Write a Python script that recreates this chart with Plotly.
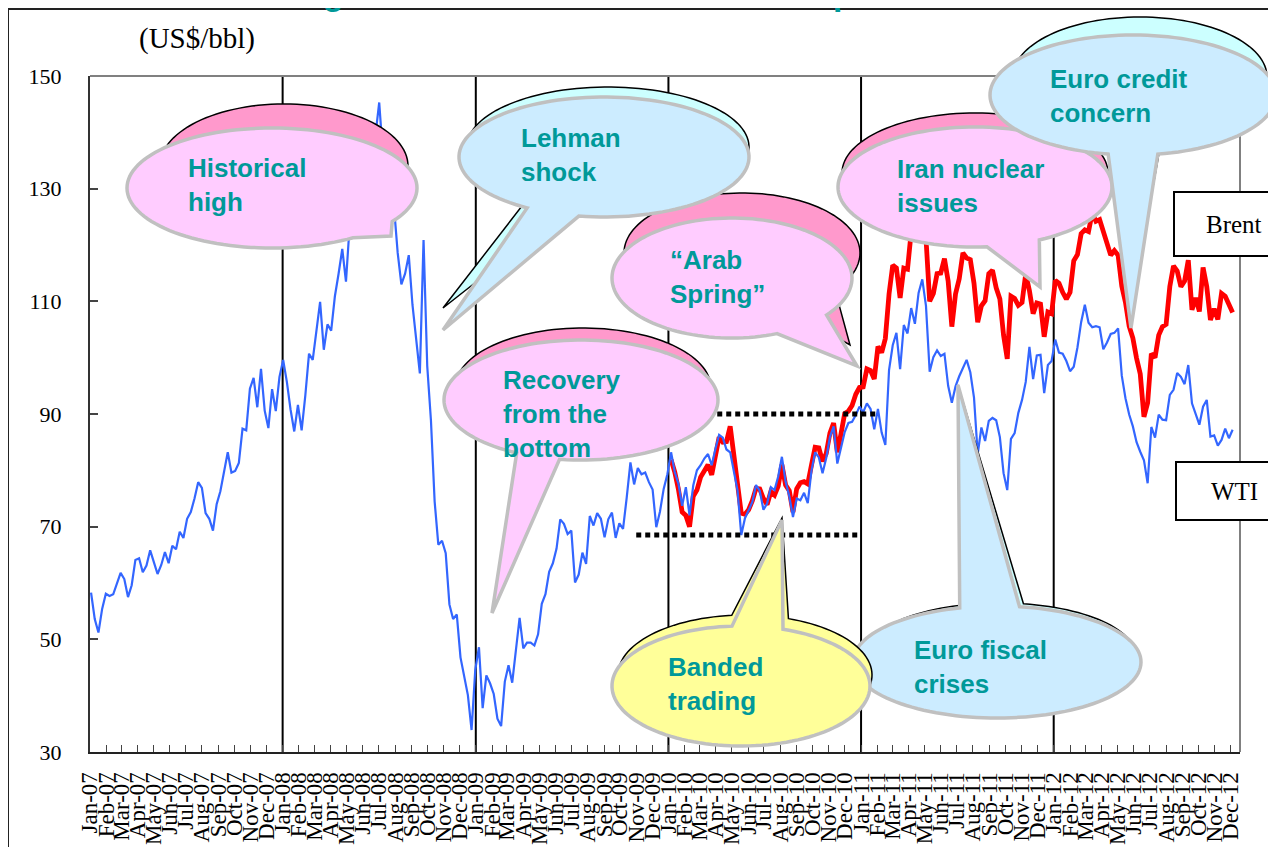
import math
import pandas as pd
import plotly.graph_objects as go

# ---------------- data (weekly readings, US$/bbl) ----------------
wti_2007 = [58.3, 53.6, 51.2, 55.4, 58.1,
            57.7, 58.0, 60.1, 61.8,
            60.7, 57.5, 59.6, 64.1,
            64.4, 61.9, 63.1, 65.8,
            63.7, 61.6, 63.2, 65.5, 63.5,
            66.6, 66.0, 69.1, 68.0,
            71.4, 72.6, 75.0, 77.9,
            76.9, 72.4, 71.4, 69.3, 74.0,
            76.3, 79.9, 83.2, 79.6,
            79.9, 81.3, 87.4, 87.1, 94.5,
            96.4, 91.2, 98.0, 90.6,
            87.5, 94.4, 90.5, 96.6]
wti_2008 = [99.6, 95.7, 90.8, 86.9, 91.6,
            87.1, 93.3, 100.7, 99.6,
            104.5, 109.9, 101.4, 105.9,
            104.8, 110.9, 114.9, 119.3, 113.5,
            123.5, 124.1, 133.2, 130.0,
            122.3, 136.4, 136.7, 139.6,
            145.3, 136.0, 134.6, 124.4, 126.8,
            118.6, 113.0, 114.9, 118.2,
            109.4, 102.6, 97.2, 120.9,
            98.5, 88.9, 74.5, 66.8, 67.5,
            65.3, 56.2, 53.6, 54.4,
            46.8, 43.5, 40.1, 33.9, 44.6]
wti_2009 = [48.6, 37.8, 43.6, 42.2,
            40.3, 35.9, 34.6, 42.5,
            45.4, 42.3, 48.1, 53.8,
            48.4, 49.4, 49.4, 48.9, 50.9,
            56.3, 58.0, 62.0, 63.5,
            66.1, 71.3, 70.5, 68.7,
            69.3, 60.1, 61.5, 65.4, 63.4,
            71.9, 70.2, 72.4, 71.4,
            68.1, 71.3, 72.5, 68.0, 70.6,
            69.6, 75.2, 81.4, 77.5,
            80.4, 79.3, 79.6, 77.9,
            76.6, 69.9, 72.7, 76.7, 79.3]
wti_2010 = [83.2, 79.7, 77.6, 73.7,
            77.0, 72.0, 77.3, 80.0,
            80.9, 82.1, 82.9, 80.9, 83.8,
            86.3, 85.8, 83.7, 83.2,
            79.9, 76.4, 68.5, 71.5,
            72.9, 74.4, 77.4, 76.4, 73.0,
            74.1, 77.0, 76.5, 78.9,
            82.4, 78.0, 75.4, 71.7,
            75.0, 74.7, 76.0, 74.2, 79.9,
            83.2, 82.3, 79.5, 82.2,
            85.9, 87.8, 81.2, 83.9,
            86.8, 88.4, 88.6, 89.8, 91.3]
wti_2011 = [90.3, 91.9, 90.9, 87.3,
            90.9, 86.7, 84.5, 97.8,
            102.2, 104.4, 97.98, 105.8, 104.3,
            108.8, 106.0, 111.5, 113.9,
            109.2, 97.5, 100.1, 101.3,
            100.3, 100.7, 95.0, 92.0, 94.9,
            96.7, 98.1, 99.6, 97.4,
            92.9, 82.9, 87.6, 85.2, 88.8,
            89.3, 88.9, 85.9, 79.5,
            76.5, 85.6, 86.6, 90.2,
            92.5, 95.7, 101.9, 96.2, 100.4,
            100.5, 93.7, 98.7, 99.4]
wti_2012 = [103.2, 100.9, 100.7, 99.4,
            97.6, 98.4, 101.8, 106.3, 109.4,
            106.2, 105.4, 105.6, 105.4,
            101.5, 102.7, 104.2, 104.4,
            105.2, 96.8, 92.8, 89.9, 87.8,
            85.0, 83.3, 81.8, 77.7,
            87.7, 85.8, 89.9, 89.0,
            88.9, 93.4, 94.3, 97.3, 96.6,
            95.3, 98.7, 91.9, 90.0,
            88.1, 91.3, 92.5, 86.0, 86.2,
            84.4, 85.4, 87.4, 85.7,
            87.2]
brent_2010 = [81.9, 79.7, 76.6, 72.6,
              72.0, 70.0, 75.4, 76.5,
              78.8, 80.0, 81.0, 79.2, 82.7,
              85.9, 85.0, 85.1, 87.8,
              82.6, 78.6, 72.4, 72.2,
              73.0, 74.6, 76.8, 76.7, 75.0,
              73.9, 76.2, 75.6, 77.2,
              81.0, 77.4, 76.4, 72.6,
              76.7, 77.8, 78.0, 77.6, 80.9,
              84.1, 84.0, 81.6, 83.0,
              86.6, 88.4, 83.2, 86.5,
              90.1, 90.5, 91.5, 93.5, 94.7]
brent_2011 = [94.8, 98.0, 97.7, 96.2,
              102.0, 100.9, 103.4, 111.3,
              116.4, 115.9, 110.6, 115.9, 115.7,
              122.3, 120.9, 124.0, 125.1,
              121.2, 110.0, 111.4, 114.9,
              115.0, 117.6, 113.6, 105.5, 111.3,
              114.0, 118.6, 117.7, 117.4,
              113.2, 106.3, 109.2, 110.1, 114.9,
              115.5, 112.4, 110.4, 104.0,
              99.8, 110.9, 110.5, 109.3,
              109.8, 114.9, 111.9, 107.8, 109.7,
              109.5, 103.7, 108.1, 107.8]
brent_2012 = [113.7, 113.2, 111.6, 110.4,
              111.6, 117.2, 118.3, 122.0, 122.7,
              122.4, 125.7, 124.2, 124.5,
              122.3, 119.9, 118.2, 119.0,
              118.2, 112.7, 109.8, 105.6, 103.5,
              99.9, 97.1, 89.5, 92.0,
              100.7, 100.0, 104.0, 105.5,
              105.9, 112.6, 116.3, 115.4, 112.6,
              113.6, 117.3, 108.5, 110.6,
              108.2, 116.0, 112.6, 106.7, 108.7,
              106.8, 111.4, 110.9, 109.5,
              108.0]

wti_years = [2007, 2008, 2009, 2010, 2011, 2012]
wti_values = [wti_2007, wti_2008, wti_2009, wti_2010, wti_2011, wti_2012]
brent_years = [2010, 2011, 2012]
brent_values = [brent_2010, brent_2011, brent_2012]

month_names = ["Jan", "Feb", "Mar", "Apr", "May", "Jun",
               "Jul", "Aug", "Sep", "Oct", "Nov", "Dec"]
year_suffixes = ["07", "08", "09", "10", "11", "12"]
tick_labels = [f"{m}-{y}" for y in year_suffixes for m in month_names]
year_lines = ["2008-01-01", "2009-01-01", "2010-01-01", "2011-01-01", "2012-01-01"]
y_ticks = [30, 50, 70, 90, 110, 130, 150]

band_high = 90.0
band_low = 68.5
band_high_span = ["2009-11-01", "2011-01-28"]
band_low_span = ["2009-11-01", "2011-01-02"]


def weekly_dates(years, values):
    xs, ys = [], []
    for yr, vals in zip(years, values):
        d = pd.date_range(f"{yr}-01-01", periods=len(vals), freq="W-WED")
        xs.extend(list(d))
        ys.extend(vals)
    return xs, ys


wti_x, wti_y = weekly_dates(wti_years, wti_values)
brent_x, brent_y = weekly_dates(brent_years, brent_values)
tick_dates = pd.date_range("2007-01-01", periods=len(tick_labels), freq="MS")

# ---------------- figure ----------------
# The page places the figure 8px in from the top-left corner, so the
# figure is sized/placed in page pixels minus that offset.
OFF = 8
W, H = 1276 - OFF, 847 - OFF
# plot area in page pixels
PL, PR, PT, PB = 90, 1240, 76, 752
L, R, T, B = PL - OFF, PR - OFF, PT - OFF, PB - OFF


def px(x):
    return (x - PL) / (PR - PL)


def py(y):
    return (PB - y) / (PB - PT)


fig = go.Figure()
fig.add_trace(go.Scatter(x=brent_x, y=brent_y, mode="lines",
                         line=dict(color="#FF0000", width=4.8), name="Brent"))
fig.add_trace(go.Scatter(x=wti_x, y=wti_y, mode="lines",
                         line=dict(color="#3366FF", width=2.2), name="WTI"))
fig.add_trace(go.Scatter(x=band_high_span, y=[band_high, band_high], mode="lines",
                         line=dict(color="black", width=5, dash="5px,4px")))
fig.add_trace(go.Scatter(x=band_low_span, y=[band_low, band_low], mode="lines",
                         line=dict(color="black", width=5, dash="5px,4px")))

shapes = []
for d in year_lines:
    shapes.append(dict(type="line", xref="x", yref="paper", x0=d, x1=d, y0=0, y1=1,
                       line=dict(color="black", width=2), layer="below"))
# plot border top/right
shapes.append(dict(type="line", xref="paper", yref="paper", x0=0, x1=1, y0=1, y1=1,
                   line=dict(color="#808080", width=2), layer="above"))
shapes.append(dict(type="line", xref="paper", yref="paper", x0=1, x1=1, y0=0, y1=1,
                   line=dict(color="#808080", width=2), layer="above"))
# outer frame
shapes.append(dict(type="rect", xref="paper", yref="paper",
                   x0=px(8), x1=px(1320), y0=py(9), y1=py(900),
                   line=dict(color="#222222", width=2), fillcolor="rgba(0,0,0,0)",
                   layer="above"))


def ellipse_pts(cx, cy, rx, ry, a0, a1, n=120):
    pts = []
    for i in range(n + 1):
        a = math.radians(a0 + (a1 - a0) * i / n)
        pts.append((cx + rx * math.cos(a), cy + ry * math.sin(a)))
    return pts


def callout_path(cx, cy, rx, ry, tail=None):
    if tail is None:
        pts = ellipse_pts(cx, cy, rx, ry, 0, 360)
    else:
        a1, a2, tx, ty = tail
        pts = ellipse_pts(cx, cy, rx, ry, a2, a1 + 360)
        pts.append((tx, ty))
    return "M " + " L ".join(f"{px(x):.5f},{py(y):.5f}" for x, y in pts) + " Z"


PINK_F, PINK_B = "#FFCCFF", "#FF99CC"
BLUE_F, BLUE_B = "#CCECFF", "#CCFFFF"
YEL_F, YEL_B = "#FFFF99", "#FFFF99"

callouts = [
    # (front ellipse, front tail, back ellipse, back tail, front fill, back fill, text, text x, text mid y)
    ((975, 187, 137, 60), (62, 85, 1040, 287), (975, 173, 133, 60), (62, 85, 1040, 275),
     PINK_F, PINK_B, "Iran nuclear<br>issues", 895, 186),
    ((1133, 95, 143, 60), (80, 100, 1131, 328), (1140, 77, 127, 60), (80, 100, 1131, 310),
     BLUE_F, BLUE_B, "Euro credit<br>concern", 1048, 96),
    ((732, 278, 120, 60), (38, 68, 857, 366), (742, 253, 118, 60), (38, 68, 850, 345),
     PINK_F, PINK_B, "\u201cArab<br>Spring\u201d", 668, 277),
    ((604, 157, 145, 60), (100, 122, 443, 330), (608, 147, 141, 60), (104, 124, 443, 308),
     BLUE_F, BLUE_B, "Lehman<br>shock", 519, 155),
    ((272, 188, 145, 60), (34, 56, 391, 236), (284, 166, 124, 62), None,
     PINK_F, PINK_B, "Historical<br>high", 186, 185),
    ((581, 400, 137, 60), (99, 118, 492, 613), (583, 388, 128, 60), (102, 120, 497, 590),
     PINK_F, PINK_B, "Recovery<br>from the<br>bottom", 501, 414),
    ((997, 662, 144, 56), (255, 279, 958, 385), (1000, 655, 135, 52), (258, 280, 958, 385),
     BLUE_F, BLUE_B, "Euro fiscal<br>crises", 912, 667),
    ((741, 686, 129, 60), (266, 289, 782, 520), (745, 675, 127, 60), (264, 290, 782, 518),
     YEL_F, YEL_B, "Banded<br>trading", 666, 684),
]

annotations = []
for front, ftail, back, btail, ffill, bfill, text, tx, ty in callouts:
    shapes.append(dict(type="path", xref="paper", yref="paper",
                       path=callout_path(*back, tail=btail), fillcolor=bfill,
                       line=dict(color="black", width=1.5), layer="above"))
    shapes.append(dict(type="path", xref="paper", yref="paper",
                       path=callout_path(*front, tail=ftail), fillcolor=ffill,
                       line=dict(color="#C0C0C0", width=3.5), layer="above"))
    annotations.append(dict(xref="paper", yref="paper", x=px(tx), y=py(ty),
                            xanchor="left", yanchor="middle", align="left",
                            text=f"<b>{text}</b>", showarrow=False,
                            font=dict(family="Liberation Sans, Arial", size=26, color="#009999")))

# series label boxes
for label, (x0, y0, y1) in [("Brent", (1174, 192, 256)), ("WTI", (1176, 462, 520))]:
    shapes.append(dict(type="rect", xref="paper", yref="paper",
                       x0=px(x0), x1=px(1320), y0=py(y1), y1=py(y0),
                       fillcolor="white", line=dict(color="black", width=2), layer="above"))
    annotations.append(dict(xref="paper", yref="paper", x=px(1234), y=py((y0 + y1) / 2),
                            xanchor="center", yanchor="middle", text=label, showarrow=False,
                            font=dict(family="Liberation Serif, Times New Roman", size=25,
                                      color="black")))

# unit label
annotations.append(dict(xref="paper", yref="paper", x=px(137), y=py(38),
                        xanchor="left", yanchor="middle", text="(US$/bbl)", showarrow=False,
                        font=dict(family="Liberation Serif, Times New Roman", size=29,
                                  color="black")))
# title (cut off at the top of the page, only descenders show)
annotations.append(dict(xref="paper", yref="paper", x=px(236), y=py(14),
                        xanchor="left", yanchor="bottom",
                        text="<b>Changes in WTI and Brent Crude Oil prices</b>", showarrow=False,
                        font=dict(family="Liberation Sans, Arial", size=34, color="#009999")))

fig.update_layout(
    width=W, height=H,
    margin=dict(l=L, r=W - R, t=T, b=H - B, autoexpand=False),
    paper_bgcolor="white", plot_bgcolor="white",
    showlegend=False,
    shapes=shapes, annotations=annotations,
    xaxis=dict(type="date", range=["2007-01-01", "2012-12-19"],
               tickmode="array", tickvals=list(tick_dates), ticktext=tick_labels,
               tickangle=-90, ticks="inside", ticklen=7, tickcolor="#444", tickwidth=1,
               showline=True, linecolor="#222", linewidth=2, showgrid=False, zeroline=False,
               ticklabelstandoff=9, automargin=False,
               tickfont=dict(family="Liberation Serif, Times New Roman", size=23, color="black")),
    yaxis=dict(range=[30, 150], tickmode="array", tickvals=y_ticks,
               ticks="inside", ticklen=8, tickcolor="#444", tickwidth=2,
               showline=True, linecolor="#333", linewidth=2, showgrid=False, zeroline=False,
               ticklabelstandoff=22, automargin=False,
               tickfont=dict(family="Liberation Serif, Times New Roman", size=22, color="black")),
)

fig.write_html("out.html")
